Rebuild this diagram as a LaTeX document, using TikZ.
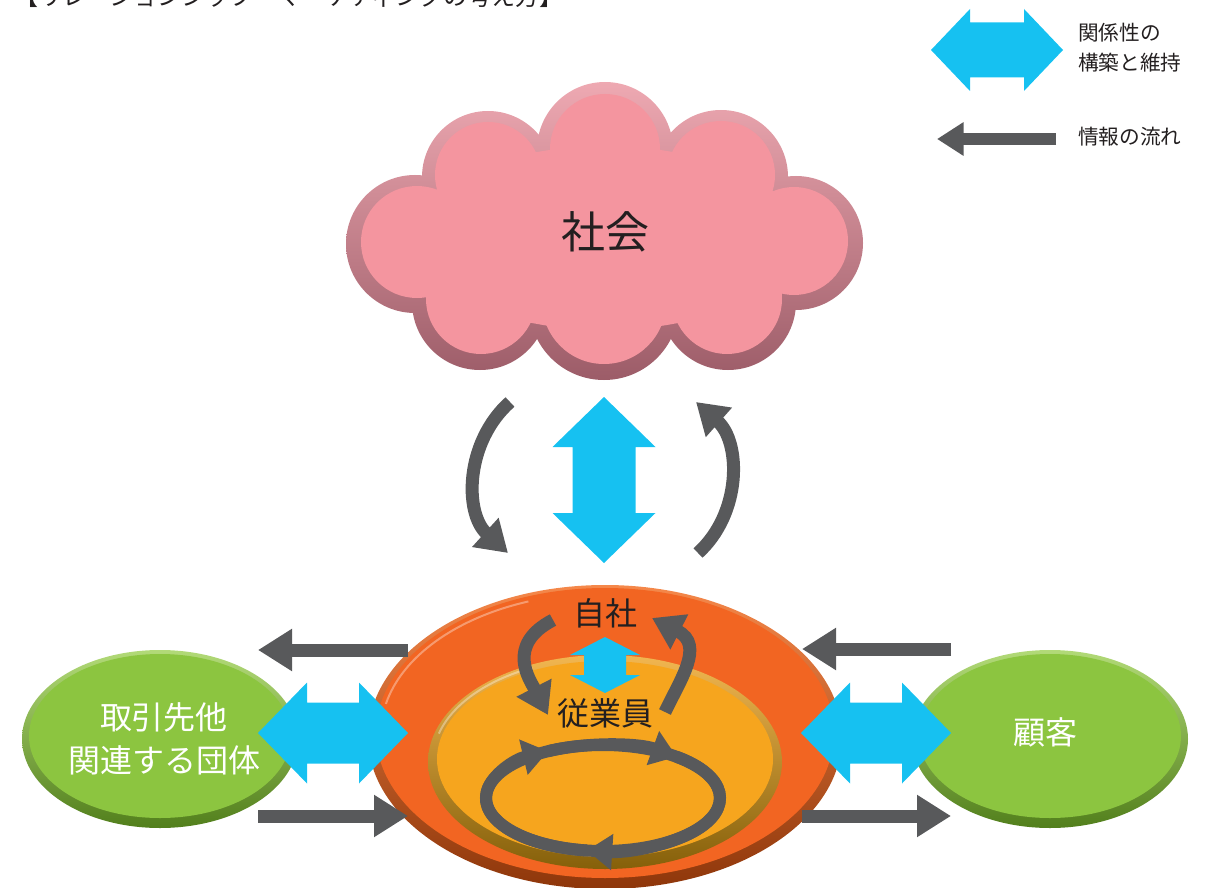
\documentclass[tikz,border=0pt]{standalone}
\usepackage{fontspec}
\setmainfont{Noto Sans CJK JP}
\usetikzlibrary{arrows.meta}

\definecolor{skyblue}{HTML}{16C1F1}
\definecolor{flowgray}{HTML}{58595B}
\definecolor{inkblack}{HTML}{231F20}
\definecolor{cloudpink}{HTML}{F4959F}
\definecolor{cloudrimtop}{HTML}{EEA9B2}
\definecolor{cloudrimbot}{HTML}{9C5C68}
\definecolor{selforange}{HTML}{F26522}
\definecolor{orangerimtop}{HTML}{F5884A}
\definecolor{orangerimbot}{HTML}{8E360A}
\definecolor{staffgold}{HTML}{F6A51E}
\definecolor{goldrimtop}{HTML}{F2B650}
\definecolor{goldrimbot}{HTML}{85600A}
\definecolor{leafgreen}{HTML}{8CC540}
\definecolor{greenrimtop}{HTML}{B2DA78}
\definecolor{greenrimbot}{HTML}{527F1C}

% block double arrows: x1, x2, y, head length, head half, shaft half
\newcommand{\hdouble}[6]{\fill[skyblue] (#1,#3) -- ({#1+#4},{#3-#5}) -- ({#1+#4},{#3-#6}) -- ({#2-#4},{#3-#6}) -- ({#2-#4},{#3-#5}) -- (#2,#3) -- ({#2-#4},{#3+#5}) -- ({#2-#4},{#3+#6}) -- ({#1+#4},{#3+#6}) -- ({#1+#4},{#3+#5}) -- cycle;}
% x, y1, y2, head length, head half, shaft half
\newcommand{\vdouble}[6]{\fill[skyblue] (#1,#2) -- ({#1+#5},{#2+#4}) -- ({#1+#6},{#2+#4}) -- ({#1+#6},{#3-#4}) -- ({#1+#5},{#3-#4}) -- (#1,#3) -- ({#1-#5},{#3-#4}) -- ({#1-#6},{#3-#4}) -- ({#1-#6},{#2+#4}) -- ({#1-#5},{#2+#4}) -- cycle;}

\tikzset{
  label/.style={inner sep=0, text=inkblack},
  flow/.style={draw=flowgray, line width=9.75pt, -{Triangle[length=25.5pt,width=30pt]}, flowgray},
  legendflow/.style={draw=flowgray, line width=9pt, -{Triangle[length=20pt,width=24pt]}, flowgray},
  curvedflow/.style={draw=flowgray, line width=9.75pt, -{Triangle[length=23pt,width=28pt]}, flowgray},
  loopflow/.style={draw=flowgray, line width=9pt, -{Triangle[length=19pt,width=26pt]}, flowgray}
}

\begin{document}
\begin{tikzpicture}[x=0.75pt, y=-0.75pt]
\useasboundingbox (0,0) rectangle (1214,888);

\node[label, anchor=base west, font=\fontsize{18}{18}\selectfont] (title) at (14,6) {【リレーションシップ・マーケティングの考え方】};

% legend
\hdouble{931}{1063}{50}{39}{41}{27.5}
\node[label, anchor=west, align=left, font=\fontsize{15.5}{22.5}\selectfont] (legendrel) at (1078,48) {関係性の\\構築と維持};
\draw[legendflow] (1056,139) -- (937,139);
\node[label, anchor=west, font=\fontsize{15.5}{22.5}\selectfont] (legendinfo) at (1078,137) {情報の流れ};

% cloud
\shade[top color=cloudrimtop, bottom color=cloudrimbot]
  (605,150) circle[radius=68] (488,177) circle[radius=66] (721,177) circle[radius=67]
  (415,244) circle[radius=69] (796,243) circle[radius=67]
  (480,302) circle[radius=68] (604,305) circle[radius=75] (728,302) circle[radius=68]
  (605,240) ellipse[x radius=200, y radius=100];
\fill[cloudpink]
  (605,149) circle[radius=55] (488,175) circle[radius=53] (721,175) circle[radius=54]
  (417,242) circle[radius=56] (794,241) circle[radius=54]
  (481,299) circle[radius=55] (604,302) circle[radius=62] (727,299) circle[radius=55]
  (605,238) ellipse[x radius=190, y radius=92];
\node[label, font=\fontsize{33}{33}\selectfont] (society) at (605,232) {社会};

\draw[curvedflow] (510,402) .. controls (465,442) and (464,513) .. (508,553);
\draw[curvedflow] (698,553) .. controls (742,513) and (741,442) .. (696,402);
\vdouble{604}{397}{563}{50}{51.5}{31.5}

% company
\shade[top color=orangerimtop, bottom color=orangerimbot] (605,737) ellipse[x radius=237, y radius=152];
\fill[selforange] (605,733) ellipse[x radius=229, y radius=145];
\draw[white, opacity=0.35, line width=1.5pt] ({605+224*cos(192)},{733+140*sin(192)}) arc[start angle=192, end angle=250, x radius=224, y radius=140];

\shade[top color=goldrimtop, bottom color=goldrimbot] (605,762) ellipse[x radius=177, y radius=107];
\fill[staffgold] (605,759) ellipse[x radius=168, y radius=98];
\draw[white, opacity=0.35, line width=1.5pt] ({605+172*cos(195)},{760+102*sin(195)}) arc[start angle=195, end angle=245, x radius=172, y radius=102];

\node[label, font=\fontsize{24}{24}\selectfont] (self) at (605,613) {自社};
\node[label, font=\fontsize{24}{24}\selectfont] (staff) at (605,713) {従業員};
\vdouble{605}{637}{693}{18}{35}{21}

\draw[curvedflow] (553,620) .. controls (505,645) and (530,680) .. (548,715);
\draw[curvedflow] (665,712) .. controls (680,680) and (705,645) .. (652,618);

\draw[flowgray, line width=9pt] (603,798) ellipse[x radius=117, y radius=53];
\draw[loopflow] (586.9,850.5) arc[start angle=97.9, end angle=242, x radius=117, y radius=53];
\draw[loopflow] (548.1,751.2) arc[start angle=242, end angle=309, x radius=117, y radius=53];
\draw[loopflow] (676.6,756.8) arc[start angle=309, end angle=457.9, x radius=117, y radius=53];

% partners and customers
\shade[top color=greenrimtop, bottom color=greenrimbot] (160,739) ellipse[x radius=138, y radius=89];
\fill[leafgreen] (160,736) ellipse[x radius=131, y radius=82];
\node[label, text=white, align=center, font=\fontsize{24}{32}\selectfont] (partner) at (164,739) {取引先他\\関連する団体};

\shade[top color=greenrimtop, bottom color=greenrimbot] (1050,739) ellipse[x radius=138, y radius=89];
\fill[leafgreen] (1050,736) ellipse[x radius=131, y radius=82];
\node[label, text=white, font=\fontsize{24}{24}\selectfont] (customer) at (1045,732) {顧客};

\hdouble{258}{408}{733}{49}{50.5}{30.5}
\hdouble{801}{951}{733}{49}{50.5}{30.5}

\draw[flow] (408,650) -- (258,650);
\draw[flow] (258,816) -- (408,816);
\draw[flow] (951,649) -- (802,649);
\draw[flow] (802,816) -- (951,816);

\end{tikzpicture}
\end{document}
